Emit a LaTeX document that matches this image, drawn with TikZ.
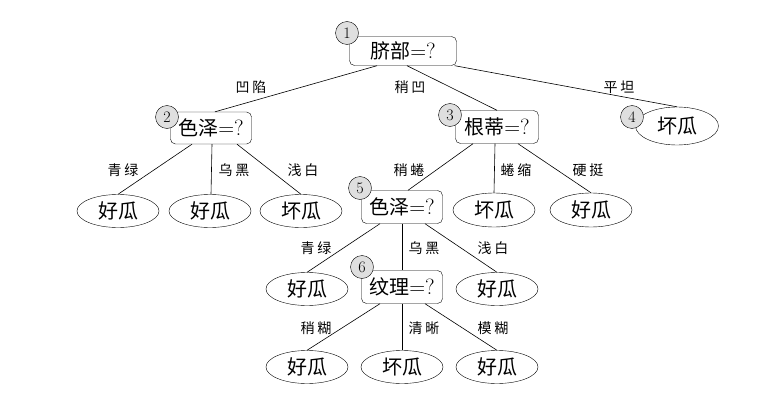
\documentclass[tikz,border=0pt]{standalone}
\usepackage{fontspec}
\newfontfamily\cjk{Noto Sans CJK SC}
\newfontfamily\cjklab[LetterSpace=20]{Noto Sans CJK SC}
\usetikzlibrary{shapes.geometric,calc}
\begin{document}
\begin{tikzpicture}[x=1pt,y=-1pt,
  box/.style={draw,rounded corners=5pt,minimum width=81pt,minimum height=32pt,inner sep=0pt,font=\cjk\fontsize{20}{20}\selectfont},
  leaf/.style={draw,ellipse,minimum width=82pt,minimum height=33pt,inner sep=0pt,font=\cjk\fontsize{20}{20}\selectfont},
  num/.style={draw,circle,fill=gray!25,minimum size=23pt,inner sep=0pt,font=\fontsize{16}{16}\selectfont},
  lab/.style={font=\cjklab\fontsize{14}{14}\selectfont},
  conn/.style={draw,line width=0.6pt}]
\useasboundingbox (0,0) rectangle (776,412);
% decision nodes
\node[box,minimum width=107pt,minimum height=29pt] (n1) at (403,51) {脐部{\rmfamily\fontsize{22}{22}\selectfont=?}};
\node[box] (n2) at (211,128) {色泽{\rmfamily\fontsize{22}{22}\selectfont=?}};
\node[box,minimum width=83pt,minimum height=33pt] (n3) at (497,127) {根蒂{\rmfamily\fontsize{22}{22}\selectfont=?}};
\node[leaf,minimum width=83pt,minimum height=38pt] (n4) at (677,126) {坏瓜};
\node[box,minimum height=33pt] (n5) at (402,207) {色泽{\rmfamily\fontsize{22}{22}\selectfont=?}};
\node[box,minimum height=33pt] (n6) at (402,287) {纹理{\rmfamily\fontsize{22}{22}\selectfont=?}};
% leaves
\node[leaf] (a1) at (118,211) {好瓜};
\node[leaf] (a2) at (210,211) {好瓜};
\node[leaf] (a3) at (301,211) {坏瓜};
\node[leaf,minimum height=34pt] (b2) at (494,210) {坏瓜};
\node[leaf,minimum height=34pt] (b3) at (591,210) {好瓜};
\node[leaf] (c1) at (307,289) {好瓜};
\node[leaf] (c3) at (497,289) {好瓜};
\node[leaf] (d1) at (307,367) {好瓜};
\node[leaf] (d2) at (402,367) {坏瓜};
\node[leaf] (d3) at (497,367) {好瓜};
% connectors
\draw[conn] ($(n1.south)+(-26,0)$) -- ($(n2.north)+(4,0)$);
\draw[conn] ($(n1.south)+(4,0)$) -- (n3.north);
\draw[conn] ($(n1.south east)+(-2,0)$) -- (n4.north);
\draw[conn] ($(n2.south)+(-19,0)$) -- (a1.north);
\draw[conn] ($(n2.south)+(1,0)$) -- ($(a2.north)+(1,0)$);
\draw[conn] ($(n2.south)+(26,0)$) -- (a3.north);
\draw[conn] ($(n3.south)+(-24,0)$) -- ($(n5.north)+(6,0)$);
\draw[conn] ($(n3.south)+(-2,0)$) -- (b2.north);
\draw[conn] ($(n3.south)+(21,0)$) -- (b3.north);
\draw[conn] ($(n5.south)+(-22,0)$) -- (c1.north);
\draw[conn] (n5.south) -- (n6.north);
\draw[conn] ($(n5.south)+(23,0)$) -- (c3.north);
\draw[conn] ($(n6.south)+(-22,0)$) -- (d1.north);
\draw[conn] (n6.south) -- (d2.north);
\draw[conn] ($(n6.south)+(23,0)$) -- (d3.north);
% edge labels
\node[lab] (l1) at (251,87) {凹陷};
\node[lab] (l2) at (410,87) {稍凹};
\node[lab] (l3) at (619,87) {平坦};
\node[lab] (l4) at (123,170) {青绿};
\node[lab] (l5) at (234,170) {乌黑};
\node[lab] (l6) at (303,170) {浅白};
\node[lab] (l7) at (409,170) {稍蜷};
\node[lab] (l8) at (516,170) {蜷缩};
\node[lab] (l9) at (588,170) {硬挺};
\node[lab] (l10) at (316,248) {青绿};
\node[lab] (l11) at (424,248) {乌黑};
\node[lab] (l12) at (493,248) {浅白};
\node[lab] (l13) at (316,328) {稍糊};
\node[lab] (l14) at (424,328) {清晰};
\node[lab] (l15) at (493,328) {模糊};
% numbered circles
\node[num] (k1) at (347,33) {1};
\node[num] (k2) at (167,117) {2};
\node[num] (k3) at (450,115) {3};
\node[num] (k4) at (632,117) {4};
\node[num] (k5) at (360,188) {5};
\node[num] (k6) at (362,267) {6};
\end{tikzpicture}
\end{document}
